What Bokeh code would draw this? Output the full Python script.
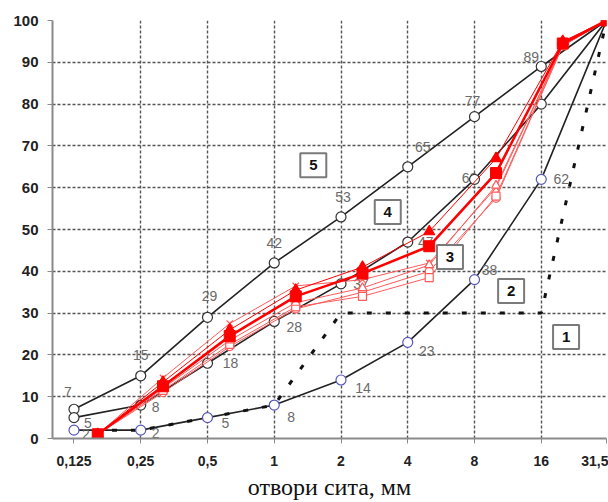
from bokeh.plotting import figure
from bokeh.models import ColumnDataSource, FixedTicker, Range1d
from bokeh.core.properties import value
from bokeh.embed import file_html
from bokeh.resources import INLINE

# ---------------- data ----------------
sieves = [0.125, 0.25, 0.5, 1, 2, 4, 8, 16, 31.5]
tick_labels = ["0,125", "0,25", "0,5", "1", "2", "4", "8", "16", "31,5"]
y_ticks = [0, 10, 20, 30, 40, 50, 60, 70, 80, 90, 100]

curve5 = [7, 15, 29, 42, 53, 65, 77, 89, 100]
curve4 = [5, 8, 18, 28, 37, 47, 62, 80, 100]
curve2 = [2, 2, 5, 8, 14, 23, 38, 62, 100]
curve1 = [2, 2, 5, 8, 30, 30, 30, 30, 100]

red_sieves = [0.16, 0.315, 0.63, 1.25, 2.5, 5, 10, 20, 31.5]
red_cross = [1, 14.5, 27.5, 36.5, 38, 42, 60, 94, 100]
red_tri = [1, 13.5, 26, 35.5, 41, 49.5, 67, 95, 100]
red_sq = [1, 12.5, 24.5, 34, 39.5, 46, 63.5, 94.5, 100]
red_otri = [1, 12, 23.5, 32.5, 36, 41.5, 60.5, 94, 100]
red_osq = [1, 11.5, 22.5, 31.5, 34, 38.5, 58, 94, 100]
red_ocirc = [1, 11, 22, 31, 35, 40, 57.5, 94, 100]

zone_names = ["1", "2", "3", "4", "5"]
zone_x = [20.7, 11.7, 6.2, 3.25, 1.5]
zone_y = [24.3, 35.3, 43.4, 54.2, 65.4]

# which points carry a value label
show5 = [True] * 8 + [False]
show4 = [True] * 7 + [False, False]
show2 = [True] * 8 + [False]

# ---------------- figure ----------------
p = figure(width=608, height=502, x_axis_type="log",
           x_range=Range1d(0.1, 31.5), y_range=Range1d(0, 100),
           output_backend="svg", toolbar_location=None,
           min_border_left=52, min_border_right=2, min_border_top=20,
           min_border_bottom=63)
p.outline_line_color = None
p.background_fill_color = "white"

# axes
p.xaxis.ticker = FixedTicker(ticks=sieves)
p.xaxis.major_label_overrides = {float(s): t for s, t in zip(sieves, tick_labels)}
p.yaxis.ticker = FixedTicker(ticks=y_ticks)
for ax in (p.xaxis[0], p.yaxis[0]):
    ax.axis_line_color = "#8a8a8a"
    ax.axis_line_width = 2
    ax.major_tick_line_color = "#8a8a8a"
    ax.major_tick_out = 5
    ax.major_tick_in = 0
    ax.minor_tick_line_color = None
    ax.major_label_text_font = "Liberation Sans"
    ax.major_label_text_font_style = "bold"
    ax.major_label_text_color = "#222222"
p.yaxis.major_label_text_font_size = "15px"
p.xaxis.major_label_text_font_size = "14px"
p.yaxis.major_label_standoff = 9
p.xaxis.major_label_standoff = 12
p.xaxis.axis_label = "отвори сита, мм"
p.xaxis.axis_label_text_font = "Liberation Serif"
p.xaxis.axis_label_text_font_style = "normal"
p.xaxis.axis_label_text_font_size = "24px"
p.xaxis.axis_label_text_color = "#111111"
p.xaxis.axis_label_standoff = 5

# grids
p.xgrid.ticker = FixedTicker(ticks=sieves[1:])
p.ygrid.ticker = FixedTicker(ticks=y_ticks[1:])
for g in (p.xgrid[0], p.ygrid[0]):
    g.grid_line_color = "#555555"
    g.grid_line_dash = "3 2"
    g.grid_line_width = 1.4

# ---------------- black curves ----------------
src5 = ColumnDataSource(dict(x=sieves, y=curve5))
src4 = ColumnDataSource(dict(x=sieves, y=curve4))
src2 = ColumnDataSource(dict(x=sieves, y=curve2))
src1 = ColumnDataSource(dict(x=sieves, y=curve1))

p.line("x", "y", source=src5, line_color="#222222", line_width=1.6)
p.line("x", "y", source=src4, line_color="#222222", line_width=1.6)
p.line("x", "y", source=src2, line_color="#222222", line_width=1.6)
p.line("x", "y", source=src1, line_color="#111111", line_width=3, line_dash="5 14")

# value labels
def add_labels(xs, ys, show, dx, dy):
    txt = [str(v) if s else "" for v, s in zip(ys, show)]
    src = ColumnDataSource(dict(x=xs, y=ys, text=txt, dx=dx, dy=dy))
    p.text("x", "y", text="text", x_offset="dx", y_offset="dy", source=src,
           text_align="center", text_baseline="middle",
           text_font=value("Liberation Sans"), text_font_size="14px",
           text_color="#6a6a6a")

add_labels(sieves, curve5, show5,
           [-6, 0, 2, 0, 2, 15, -2, -10, 0],
           [-17, -21, -21, -20, -20, -20, -16, -9, 0])
add_labels(sieves, curve4, show4,
           [14, 15, 23, 20, 20, 18, -5, 0, 0],
           [5, 2, 0, 6, 0, 0, -1, 0, 0])
add_labels(sieves, curve2, show2,
           [12, 15, 18, 17, 22, 19, 15, 20, 0],
           [4, 3, 5, 12, 8, 9, -10, 0, 0])

p.scatter("x", "y", source=src5, marker="circle", size=10,
          line_color="#333333", fill_color="white", line_width=1.2)
p.scatter("x", "y", source=src4, marker="circle", size=10,
          line_color="#333333", fill_color="white", line_width=1.2)
p.scatter("x", "y", source=src2, marker="circle", size=10,
          line_color="#5555bb", fill_color="white", line_width=1.2)

# ---------------- red curves ----------------
thin = "#ff5a5a"
red_specs = [
    (red_cross, "x", thin, thin, 1.0, 9),
    (red_ocirc, "circle", thin, "white", 1.0, 8),
    (red_osq, "square", thin, "white", 1.0, 8),
    (red_otri, "triangle", thin, "white", 1.0, 9),
    (red_tri, "triangle", "#ff0000", "#ff0000", 1.0, 11),
]
for ys, mk, lc, fc, lw, sz in red_specs:
    s = ColumnDataSource(dict(x=red_sieves, y=ys))
    p.line("x", "y", source=s, line_color=lc, line_width=lw)
    p.scatter("x", "y", source=s, marker=mk, size=sz, line_color=lc,
              fill_color=fc, line_width=1.2)

s_main = ColumnDataSource(dict(x=red_sieves, y=red_sq))
p.line("x", "y", source=s_main, line_color="#ff0000", line_width=2.6)
p.scatter("x", "y", source=s_main, marker="square", size=11,
          line_color="#ff0000", fill_color="#ff0000")

# ---------------- zone boxes ----------------
zsrc = ColumnDataSource(dict(x=zone_x, y=zone_y, t=zone_names))
p.rect("x", "y", width=26, height=24, width_units="screen", height_units="screen",
       source=zsrc, fill_color="white", line_color="#7a7a7a", line_width=2)
p.text("x", "y", text="t", source=zsrc, text_align="center", text_baseline="middle",
       text_font=value("Liberation Sans"), text_font_style="bold",
       text_font_size="15px", text_color="#111111")

open("out.html", "w").write(file_html(p, INLINE))
